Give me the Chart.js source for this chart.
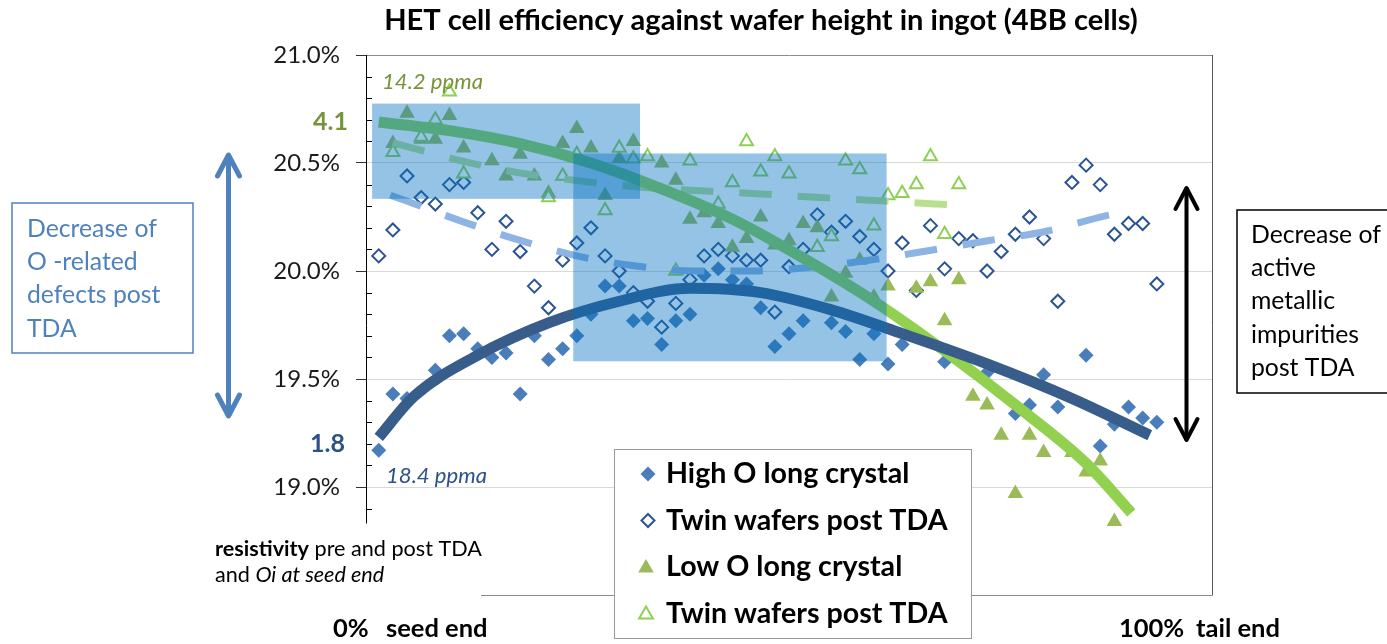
<!DOCTYPE html>
<html>
<head>
<meta charset="utf-8">
<script src="https://cdn.jsdelivr.net/npm/chart.js@4.4.1/dist/chart.umd.min.js"></script>
<style>
html,body{margin:0;padding:0;background:#ffffff;}
#wrap{width:1387px;height:644px;position:relative;overflow:hidden;}
</style>
</head>
<body>
<div id="wrap"><canvas id="c" width="1387" height="644"></canvas></div>
<script>
// ---- DATA (efficiency %, by wafer position from seed end to tail end) ----
const wafer = [1,2,3,4,5,6,7,8,9,10,11,12,13,14,15,16,17,18,19,20,21,22,23,24,25,26,27,28,29,30,
               31,32,33,34,35,36,37,38,39,40,41,42,43,44,45,46,47,48,49,50,51,52,53,54,55,56];

const highO = [19.17,19.43,19.41,null,19.54,19.70,19.71,19.64,19.60,19.62,
               19.43,19.70,19.59,19.64,19.70,19.80,19.93,19.93,19.77,19.78,
               19.66,19.77,19.80,19.98,20.01,19.96,19.94,19.83,19.65,19.71,
               19.77,null,19.76,19.72,19.59,19.71,19.57,19.66,19.72,null,
               19.58,null,null,19.53,null,19.34,19.38,19.52,19.37,null,
               19.61,19.19,19.29,19.37,19.32,19.30];

const twinHighO = [20.07,20.19,20.44,20.34,20.31,20.40,20.41,20.27,20.10,20.23,
                   20.09,19.93,19.83,20.05,20.13,20.20,20.07,20.00,19.90,19.86,
                   19.74,19.85,19.96,20.07,20.10,20.07,20.05,20.05,19.81,20.02,
                   20.10,20.26,20.18,20.23,20.16,20.10,20.00,20.13,19.91,20.21,
                   20.01,20.15,20.14,20.00,20.09,20.17,20.25,20.15,19.86,20.41,
                   20.49,20.40,20.17,20.22,20.22,19.94];

const lowO = [null,20.59,20.73,20.61,20.61,20.72,20.57,null,20.51,20.44,
              20.54,20.44,20.36,20.59,20.66,20.57,20.35,20.52,20.60,null,
              20.50,20.42,20.24,20.27,20.22,20.11,20.15,20.25,20.12,20.14,
              20.22,20.20,19.88,19.99,20.05,19.88,19.93,null,19.92,19.95,
              19.77,19.96,19.42,19.38,19.24,18.97,19.24,19.16,null,19.16,
              19.07,19.12,18.84,null,null,null];

const twinLowO = [null,20.55,null,20.62,20.70,20.83,20.45,null,null,null,
                  null,null,20.34,20.44,20.54,null,20.28,20.57,20.52,20.53,
                  null,20.00,20.51,null,20.31,20.41,20.60,20.46,20.53,20.45,
                  null,20.11,20.16,20.51,20.47,20.21,20.35,20.36,20.40,20.53,
                  20.17,20.40,null,null,null,null,null,null,null,null,
                  null,null,null,null,null,null];

// trend curves
const trendHighOX = [1,3.5,8,13,18,23,28,33,38,44,50,55.5];
const trendHighOY = [19.23,19.42,19.61,19.76,19.86,19.92,19.90,19.82,19.71,19.57,19.41,19.24];
const trendTwinHighOX = [1,2.93,6.88,10.88,15,19.06,23.3,27.43,31.64,35.76,39.94,44.04,48.2,52.36,53.6];
const trendTwinHighOY = [20.37,20.325,20.23,20.144,20.07,20.024,20.0,20.0,20.018,20.051,20.095,20.14,20.184,20.255,20.27];
const trendLowOX = [1,6,11,16,21,26,31,36,41,46,51,54.2];
const trendLowOY = [20.69,20.65,20.59,20.50,20.38,20.24,20.06,19.86,19.63,19.38,19.11,18.88];
const trendTwinLowOX = [2,3.1,7.23,11.35,15.5,19.6,23.84,28,32.2,36.4,41.8];
const trendTwinLowOY = [20.594,20.575,20.504,20.45,20.415,20.388,20.371,20.357,20.34,20.325,20.305];

const yMajorLabels = [19.0,19.5,20.0,20.5,21.0];
const seriesNames = ['High O long crystal','Twin wafers post TDA','Low O long crystal','Twin wafers post TDA'];

// highlighted regions (data units)
const regionX0 = [0.53, 14.75];
const regionX1 = [19.47, 36.9];
const regionY0 = [20.775, 20.544];
const regionY1 = [20.334, 19.582];

// ---- helpers ----
const FAM = 'Lato, "Open Sans", sans-serif';
function pts(xs, ys){ const out=[]; ys.forEach((v,k)=>{ if(v!=null) out.push({x:xs[k], y:v}); }); return out; }
function isMajor(v){ return Math.abs(v*2 - Math.round(v*2)) < 1e-6; }
function fitSize(ctx, parts, targetW){
  let w=0; parts.forEach(p=>{ ctx.font = `${p.s} 100px ${FAM}`; w += ctx.measureText(p.t).width; });
  return 100*targetW/w;
}
function drawParts(ctx, parts, x, y, size, color, align){
  let total=0; parts.forEach(p=>{ ctx.font=`${p.s} ${size}px ${FAM}`; p.w=ctx.measureText(p.t).width; total+=p.w; });
  let cx = align==='center' ? x-total/2 : x;
  ctx.fillStyle=color; ctx.textAlign='left'; ctx.textBaseline='alphabetic';
  parts.forEach(p=>{ ctx.font=`${p.s} ${size}px ${FAM}`; ctx.fillText(p.t,cx,y); cx+=p.w; });
}
function marker(ctx, style, x, y, r, fill, stroke, lw){
  ctx.save(); ctx.beginPath();
  if(style==='diamond'){ ctx.moveTo(x,y-r); ctx.lineTo(x+r,y); ctx.lineTo(x,y+r); ctx.lineTo(x-r,y); }
  else { ctx.moveTo(x,y-r); ctx.lineTo(x+r*0.866,y+r*0.5); ctx.lineTo(x-r*0.866,y+r*0.5); }
  ctx.closePath();
  if(fill){ ctx.fillStyle=fill; ctx.fill(); }
  if(stroke){ ctx.strokeStyle=stroke; ctx.lineWidth=lw; ctx.stroke(); }
  ctx.restore();
}
function dblArrow(ctx, x, yTop, yBot, color, lw, hw, hh){
  ctx.save(); ctx.strokeStyle=color; ctx.lineWidth=lw; ctx.lineCap='round'; ctx.lineJoin='round';
  ctx.beginPath(); ctx.moveTo(x,yTop+1); ctx.lineTo(x,yBot-1); ctx.stroke();
  ctx.beginPath(); ctx.moveTo(x-hw,yTop+hh); ctx.lineTo(x,yTop); ctx.lineTo(x+hw,yTop+hh); ctx.stroke();
  ctx.beginPath(); ctx.moveTo(x-hw,yBot-hh); ctx.lineTo(x,yBot); ctx.lineTo(x+hw,yBot-hh); ctx.stroke();
  ctx.restore();
}

const overlayPlugin = {
  id:'overlay',
  afterDatasetsDraw(chart){
    const ctx=chart.ctx, xs=chart.scales.x, ys=chart.scales.y;
    ctx.save();
    ctx.fillStyle='rgba(0,112,192,0.42)';
    for(let k=0;k<regionX0.length;k++){
      const x0=xs.getPixelForValue(regionX0[k]), x1=xs.getPixelForValue(regionX1[k]);
      const y0=ys.getPixelForValue(regionY0[k]), y1=ys.getPixelForValue(regionY1[k]);
      ctx.fillRect(x0,y0,x1-x0,y1-y0);
    }
    ctx.restore();
  },
  afterDraw(chart){
    const ctx=chart.ctx, ys=chart.scales.y, ca=chart.chartArea;
    ctx.save();
    // inward minor ticks
    ctx.strokeStyle='#000'; ctx.lineWidth=1;
    ys.ticks.forEach(t=>{ if(!isMajor(t.value)){ const py=Math.round(ys.getPixelForValue(t.value))+0.5; ctx.beginPath(); ctx.moveTo(ca.left,py); ctx.lineTo(ca.left+6,py); ctx.stroke(); }});
    // right border of plot area
    ctx.strokeStyle='#595959'; ctx.beginPath(); ctx.moveTo(Math.round(ca.right)+0.5,ca.top); ctx.lineTo(Math.round(ca.right)+0.5,ca.bottom+0.5); ctx.stroke();

    // title
    const title='HET cell efficiency against wafer height in ingot (4BB cells)';
    const ts=fitSize(ctx,[{t:title,s:'bold'}],754);
    drawParts(ctx,[{t:title,s:'bold'}],761,29.5,ts,'#000','center');

    // resistivity note (white box)
    ctx.fillStyle='#fff'; ctx.fillRect(200,523.5,281,80);
    const r1=[{t:'resistivity',s:'bold'},{t:' pre and post TDA',s:''}];
    const rs=fitSize(ctx,r1,267);
    drawParts(ctx,r1,215,556,rs,'#000','left');
    drawParts(ctx,[{t:'and ',s:''},{t:'Oi at seed end',s:'italic'}],215,582,rs,'#000','left');

    // axis-end labels
    const es=fitSize(ctx,[{t:'seed end',s:'bold'}],101.6);
    drawParts(ctx,[{t:'0%',s:'bold'}],333,637,es,'#000','left');
    drawParts(ctx,[{t:'seed end',s:'bold'}],386,637,es,'#000','left');
    drawParts(ctx,[{t:'100%',s:'bold'}],1119,637,es,'#000','left');
    drawParts(ctx,[{t:'tail end',s:'bold'}],1196,637,es,'#000','left');

    // resistivity values and Oi
    const vs=fitSize(ctx,[{t:'4.1',s:'bold'}],35);
    drawParts(ctx,[{t:'4.1',s:'bold'}],313,130,vs,'#77933c','left');
    drawParts(ctx,[{t:'1.8',s:'bold'}],310,452,vs,'#2c5288','left');
    const ps=fitSize(ctx,[{t:'14.2 ppma',s:'italic'}],101);
    drawParts(ctx,[{t:'14.2 ppma',s:'italic'}],382,89,ps,'#77933c','left');
    drawParts(ctx,[{t:'18.4 ppma',s:'italic'}],386,483,ps,'#2c5288','left');

    // left annotation box
    ctx.fillStyle='#fff'; ctx.fillRect(12,203,181,150);
    ctx.strokeStyle='#4f81bd'; ctx.lineWidth=1.5; ctx.strokeRect(12,203,181,150);
    const ls=fitSize(ctx,[{t:'Decrease of',s:''}],130);
    ['Decrease of','O -related','defects post','TDA'].forEach((t,k)=>drawParts(ctx,[{t,s:''}],27,236.7+k*33.3,ls,'#4f81bd','left'));
    dblArrow(ctx,228.5,155,416,'#4f81bd',5,11,21);

    // right annotation box
    ctx.fillStyle='#fff'; ctx.fillRect(1237,210,160,183);
    ctx.strokeStyle='#000'; ctx.lineWidth=1.5; ctx.strokeRect(1237,210,160,183);
    ['Decrease of','active','metallic','impurities','post TDA'].forEach((t,k)=>drawParts(ctx,[{t,s:''}],1251,242.7+k*33.3,ls,'#000','left'));
    dblArrow(ctx,1186.5,188,440,'#000',4,11,21);

    // legend
    ctx.fillStyle='#fff'; ctx.fillRect(614.5,449.5,357,189);
    ctx.strokeStyle='#9a9a9a'; ctx.lineWidth=1; ctx.strokeRect(614.5,449.5,357,189);
    const gs=fitSize(ctx,[{t:'Twin wafers post TDA',s:'bold'}],281.6);
    const rows=[474,520.5,567,613.5];
    marker(ctx,'diamond',648,rows[0],7.5,'#4a7ebb',null,0);
    marker(ctx,'diamond',648,rows[1],6.5,'#fff','#2b5592',2);
    marker(ctx,'triangle',646,rows[2]+1,9,'#9bbb59',null,0);
    marker(ctx,'triangle',646,rows[3]+1,8,'#fff','#8fd053',2);
    seriesNames.forEach((t,k)=>drawParts(ctx,[{t,s:'bold'}],666,rows[k]+9,gs,'#000','left'));
    ctx.restore();
  }
};

function makeChart(){
  const ctx=document.getElementById('c').getContext('2d');
  const trend = {showLine:true,pointRadius:0,fill:false,cubicInterpolationMode:'monotone'};
  new Chart(ctx,{
    type:'scatter',
    data:{datasets:[
      Object.assign({label:'High O trend',data:pts(trendHighOX,trendHighOY),borderColor:'#385d8a',borderWidth:11,order:0},trend),
      Object.assign({label:'Low O trend',data:pts(trendLowOX,trendLowOY),borderColor:'#92d050',borderWidth:11,order:1},trend),
      Object.assign({label:'Twin high O trend',data:pts(trendTwinHighOX,trendTwinHighOY),borderColor:'#8db4e2',borderWidth:7,borderDash:[32.5,26],borderDashOffset:46.2,order:2},trend),
      Object.assign({label:'Twin low O trend',data:pts(trendTwinLowOX,trendTwinLowOY),borderColor:'#b9e08e',borderWidth:7,borderDash:[32.5,26],borderDashOffset:0,order:3},trend),
      {label:seriesNames[3],data:pts(wafer,twinLowO),pointStyle:'triangle',pointRadius:7.5,backgroundColor:'#ffffff',borderColor:'#8fd053',borderWidth:2,order:4},
      {label:seriesNames[2],data:pts(wafer,lowO),pointStyle:'triangle',pointRadius:9,backgroundColor:'#9bbb59',borderColor:'#9bbb59',borderWidth:0,order:5},
      {label:seriesNames[1],data:pts(wafer,twinHighO),pointStyle:'rectRot',pointRadius:6.5,backgroundColor:'#ffffff',borderColor:'#2b5592',borderWidth:2,order:6},
      {label:seriesNames[0],data:pts(wafer,highO),pointStyle:'rectRot',pointRadius:7.5,backgroundColor:'#4a7ebb',borderColor:'#4a7ebb',borderWidth:0,order:7}
    ]},
    options:{
      responsive:false, animation:false, events:[], devicePixelRatio:1,
      layout:{padding:{left:0,right:175,top:55,bottom:49}},
      plugins:{legend:{display:false},tooltip:{enabled:false},title:{display:false}},
      scales:{
        x:{type:'linear',min:0.1,max:59.9,display:false},
        y:{type:'linear',min:18.5,max:21.0,
           afterFit(s){ s.width=366; },
           ticks:{stepSize:0.1,autoSkip:false,padding:16,color:'#1a1a1a',font:{family:FAM,size:24},
                  callback:(v)=> (isMajor(v) && yMajorLabels.some(m=>Math.abs(m-v)<1e-6)) ? Number(v).toFixed(1)+'%' : ''},
           grid:{
             color:(c)=>{ const v=c.tick.value; if(!isMajor(v)) return 'rgba(0,0,0,0)'; if(Math.abs(v-21)<1e-6||Math.abs(v-18.5)<1e-6) return '#8c8c8c'; return '#d9d9d9'; },
             tickColor:(c)=> isMajor(c.tick.value) ? '#333333' : 'rgba(0,0,0,0)',
             tickLength:10, lineWidth:1, drawTicks:true
           },
           border:{display:true,color:'#000000',width:1}
        }
      }
    },
    plugins:[overlayPlugin]
  });
}
const fontLoads=['24px Lato','bold 24px Lato','italic 24px Lato'].map(f=>document.fonts.load(f).catch(()=>null));
Promise.all(fontLoads).then(makeChart,makeChart);
</script>
</body>
</html>
